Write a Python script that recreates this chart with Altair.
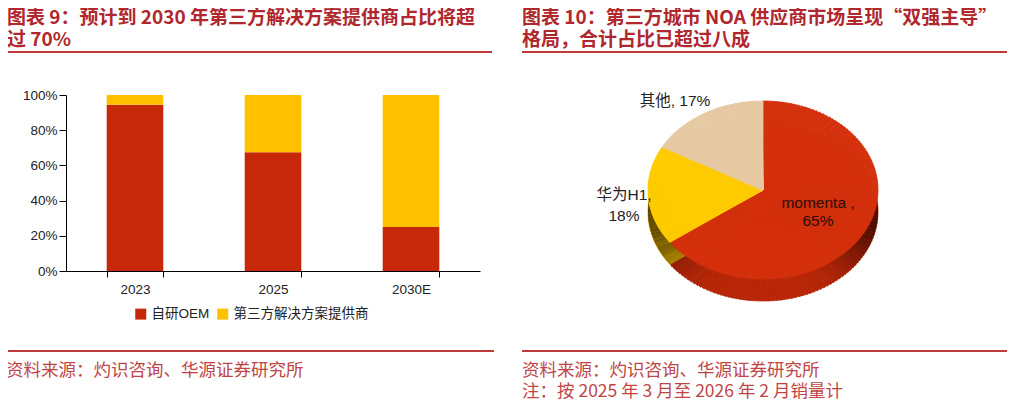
import altair as alt
import pandas as pd
import numpy as np

# ---------------- data ----------------
years = ["2023", "2025", "2030E"]
series = ["自研OEM", "第三方解决方案提供商"]
oem_share = [0.945, 0.675, 0.25]
third_share = [0.055, 0.325, 0.75]

pie_labels = ["momenta", "华为H1", "其他"]
pie_shares = [65, 18, 17]

title_left = ["图表 9：预计到 2030 年第三方解决方案提供商占比将超", "过 70%"]
title_right = ["图表 10：第三方城市 NOA 供应商市场呈现“双强主导”", "格局，合计占比已超过八成"]
note_left = ["资料来源：灼识咨询、华源证券研究所"]
note_right = ["资料来源：灼识咨询、华源证券研究所", "注：按 2025 年 3 月至 2026 年 2 月销量计"]

# ---------------- tables ----------------
bar_df = pd.DataFrame({
    "year": years * 2,
    "series": [series[0]] * 3 + [series[1]] * 3,
    "value": oem_share + third_share,
    "ord": [0] * 3 + [1] * 3,
})

tot = float(sum(pie_shares))
cum = np.cumsum(pie_shares) / tot
pie_df = pd.DataFrame({
    "label": pie_labels,
    "share": pie_shares,
    "start": np.concatenate([[0.0], cum[:-1]]),
    "end": cum,
})

CJK = "Noto Sans CJK SC"
LAT = "Liberation Sans, Noto Sans CJK SC"
RED = "#C8280A"
YEL = "#FFC000"

one = pd.DataFrame({"k": [0]})

# white backdrop inside the plot area (hides any faint frame)
backdrop = alt.Chart(one).mark_rect(fill="white", strokeWidth=0).encode(
    x=alt.value(1), x2=alt.value(417), y=alt.value(-3), y2=alt.value(175))

# ---------------- bar chart ----------------
bars = alt.Chart(bar_df).mark_bar().encode(
    x=alt.X("year:N", sort=years, title=None,
            scale=alt.Scale(paddingInner=0.59, paddingOuter=0.295),
            axis=alt.Axis(labelAngle=0, tickBand="extent", tickSize=6, labelPadding=5,
                          labelFontSize=13.5, labelFont=LAT, labelColor="#222",
                          domainColor="#000", tickColor="#000", grid=False)),
    y=alt.Y("value:Q", stack="zero", title=None,
            scale=alt.Scale(domain=[0, 1], nice=False),
            axis=alt.Axis(values=[0, 0.2, 0.4, 0.6, 0.8, 1.0], format=".0%", grid=False,
                          tickSize=7, labelPadding=2, labelFontSize=13.5, labelFont=LAT,
                          labelColor="#222", domainColor="#000", tickColor="#000")),
    color=alt.Color("series:N", scale=alt.Scale(domain=series, range=[RED, YEL]),
                    legend=alt.Legend(title=None, orient="none", legendX=68, legendY=212,
                                      direction="horizontal", symbolType="square",
                                      symbolSize=121, symbolStrokeWidth=0,
                                      labelFontSize=13.5, labelFont=LAT, labelColor="#222",
                                      labelOffset=4, columnPadding=6)),
    order=alt.Order("ord:Q"),
)

# ---------------- pseudo 3D pie ----------------
A, B = 115.0, 89.0
CX, CY, DEPTH = 697, 95, 22
N = 120

pie_dom = pie_labels
top_cols = ["#D4300C", "#FFCC00", "#E6C9A2"]
side_cols = ["#B82607", "#D4A300", "#C9A882"]

def geom(ch):
    return (ch.transform_calculate(steps=f"sequence(0, {N})")
              .transform_flatten(["steps"], ["k"])
              .transform_calculate(
                  p0=f"2*PI*(datum.start + (datum.end-datum.start)*datum.k/{N})",
                  p1=f"2*PI*(datum.start + (datum.end-datum.start)*(datum.k+1)/{N})")
              .transform_calculate(pm="(datum.p0+datum.p1)/2")
              .transform_calculate(
                  a0=f"atan2({A}*sin(datum.p0), {B}*cos(datum.p0))",
                  a1=f"atan2({A}*sin(datum.p1), {B}*cos(datum.p1))",
                  r=f"sqrt(pow({A}*sin(datum.pm),2) + pow({B}*cos(datum.pm),2))",
                  shade="0.62*pow(abs(sin(datum.pm)), 5)")
              .transform_calculate(
                  t0="datum.a0 + 2*PI*round((datum.p0-datum.a0)/(2*PI))",
                  t1="datum.a1 + 2*PI*round((datum.p1-datum.a1)/(2*PI))"))

side = geom(alt.Chart(pie_df)).mark_arc(strokeWidth=0.8).encode(
    theta=alt.Theta("t0:Q", scale=None, stack=None),
    theta2="t1:Q",
    radius=alt.Radius("r:Q", scale=None),
    fill=alt.Fill("label:N", scale=alt.Scale(domain=pie_dom, range=side_cols), legend=None),
    stroke=alt.Stroke("label:N", scale=alt.Scale(domain=pie_dom, range=side_cols), legend=None),
    x=alt.value(CX), y=alt.value(CY + DEPTH),
)

shade = geom(alt.Chart(pie_df)).mark_arc(fill="#000000", strokeWidth=0).encode(
    theta=alt.Theta("t0:Q", scale=None, stack=None),
    theta2="t1:Q",
    radius=alt.Radius("r:Q", scale=None),
    opacity=alt.Opacity("shade:Q", scale=None),
    x=alt.value(CX), y=alt.value(CY + DEPTH),
)

top = geom(alt.Chart(pie_df)).mark_arc(strokeWidth=0.8).encode(
    theta=alt.Theta("t0:Q", scale=None, stack=None),
    theta2="t1:Q",
    radius=alt.Radius("r:Q", scale=None),
    fill=alt.Fill("label:N", scale=alt.Scale(domain=pie_dom, range=top_cols), legend=None),
    stroke=alt.Stroke("label:N", scale=alt.Scale(domain=pie_dom, range=top_cols), legend=None),
    x=alt.value(CX), y=alt.value(CY),
)

def txt(s, x, y, size, color, font=LAT, weight="normal", align="center"):
    return alt.Chart(pd.DataFrame({"t": [s]})).mark_text(
        fontSize=size, font=font, fontWeight=weight, color=color, align=align,
        baseline="middle").encode(text="t:N", x=alt.value(x), y=alt.value(y))

lab_col = "#222222"
pie_text = [
    txt(f"{pie_labels[2]}, {pie_shares[2]}%", 609, 6, 15.5, lab_col),
    txt(f"{pie_labels[1]},", 558, 100, 15.5, lab_col),
    txt(f"{pie_shares[1]}%", 558, 121, 15.5, lab_col),
    txt(f"{pie_labels[0]} ,", 752, 108, 15.5, "#2a0d05"),
    txt(f"{pie_shares[0]}%", 752, 126, 15.5, "#2a0d05"),
]

TCOL = "#B0272D"
NCOL = "#BF4545"
titles = [
    txt(title_left[0], -59, -77, 19, TCOL, CJK, "bold", "left"),
    txt(title_left[1], -59, -55, 19, TCOL, CJK, "bold", "left"),
    txt(title_right[0], 456, -77, 19, TCOL, CJK, "bold", "left"),
    txt(title_right[1], 456, -55, 19, TCOL, CJK, "bold", "left"),
    txt(note_left[0], -60, 276, 17.5, NCOL, CJK, "normal", "left"),
    txt(note_right[0], 456, 276, 17.5, NCOL, CJK, "normal", "left"),
    txt(note_right[1], 456, 297, 17.5, NCOL, CJK, "normal", "left"),
]

LCOL = "#C0393B"
def rule(x1, x2, y):
    return alt.Chart(one).mark_rule(color=LCOL, strokeWidth=2).encode(
        x=alt.value(x1), x2=alt.value(x2), y=alt.value(y))

rules = [rule(-61, 426, -43), rule(456, 944, -43), rule(-61, 428, 256), rule(456, 947, 256)]

chart = alt.layer(backdrop, bars, side, shade, top, *pie_text, *titles, *rules).resolve_scale(
    color="independent", fill="independent", stroke="independent"
).properties(
    width=414, height=176,
    background="white",
    autosize=alt.AutoSizeParams(type="none"),
    padding={"left": 58, "top": 87, "right": 527, "bottom": 128},
).configure_view(stroke=None, strokeWidth=0
).configure_axis(grid=False)

chart.save("out.html", embed_options={"renderer": "svg", "actions": False})
